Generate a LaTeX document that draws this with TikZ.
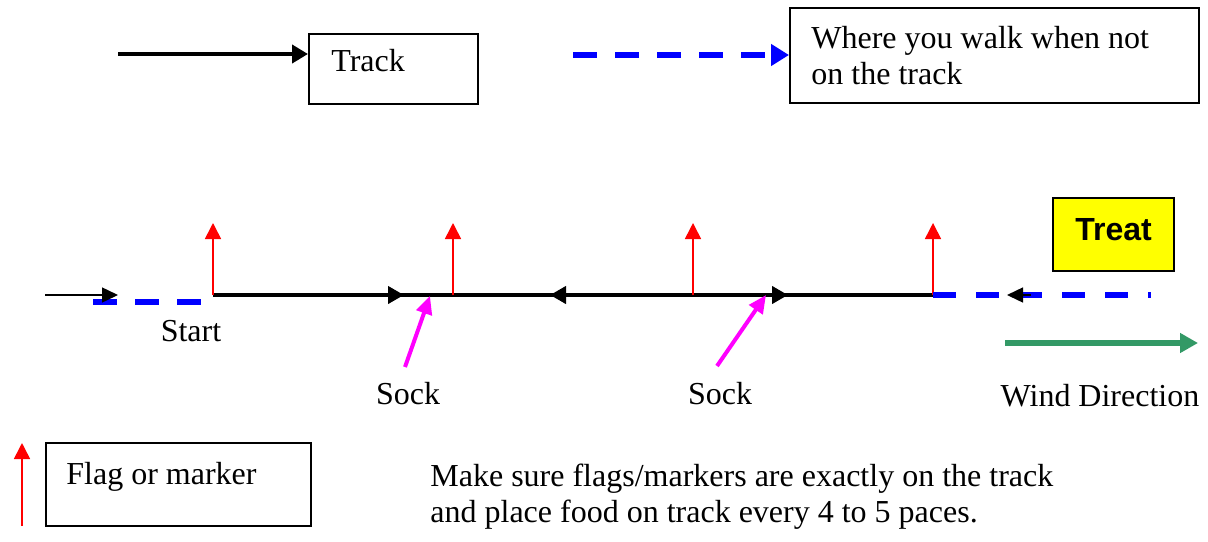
\documentclass[tikz,border=0pt]{standalone}
\usepackage{fontspec}
\setmainfont{Liberation Serif}
\newfontfamily\treatfont{Liberation Sans}
\usetikzlibrary{arrows.meta,positioning}

\definecolor{walkblue}{RGB}{0,0,255}
\definecolor{flagred}{RGB}{255,0,0}
\definecolor{sockpink}{RGB}{255,0,255}
\definecolor{windgreen}{RGB}{51,153,102}
\definecolor{treatyellow}{RGB}{255,255,0}

\begin{document}
\begin{tikzpicture}[x=0.5pt,y=-0.5pt,font=\fontsize{16}{18}\selectfont,
  trackline/.style={line width=2pt},
  trackarrow/.style={line width=2pt,-{Triangle[length=8pt,width=8.5pt]}},
  thinarrow/.style={line width=0.75pt,-{Triangle[length=8pt,width=7.5pt]}},
  walk/.style={walkblue,line width=2.75pt,dash pattern=on 12pt off 9pt},
  flag/.style={flagred,line width=0.8pt,-{Triangle[length=8pt,width=8pt]}},
  sock/.style={sockpink,line width=2pt,-{Triangle[length=9pt,width=8pt]}},
  legendbox/.style={draw,line width=1pt,inner sep=0pt,anchor=north west},
  txt/.style={inner sep=0pt,align=left}]
 \useasboundingbox (0,0) rectangle (1208,541);

 % legend
 \node[legendbox,minimum width=84.5pt,minimum height=35pt]   (tb) at (308,33) {};
 \node[legendbox,minimum width=204.5pt,minimum height=47.5pt] (wb) at (789,7)  {};
 \node[legendbox,minimum width=132.5pt,minimum height=41.5pt] (fb) at (45,442)  {};
 \node[txt,anchor=base west] (tt) at (331,71)  {Track};
 \node[txt,anchor=north west] (wt) at (811,26) {Where you walk when not\\on the track};
 \node[txt,anchor=base west] (ft) at (66,484)  {Flag or marker};
 \coordinate (tl) at (118,54);
 \coordinate (wl) at (573,55);
 \coordinate (lf0) at (22,526);
 \coordinate (lf1) at (22,443);
 \draw[line width=2pt,-{Triangle[length=8pt,width=9pt]}] (tl) -- (tl -| tb.west);
 \draw[walk,-{Triangle[length=9pt,width=10.5pt]}] (wl) -- (wl -| wb.west);
 \draw[flag] (lf0) -- (lf1);

 % the track with its flags
 \foreach \x [count=\i] in {213,453,693,933} {
   \coordinate (f\i) at (\x,295);
   \coordinate (h\i) at (\x,223);
 }
 \coordinate (t1) at (404,295);
 \coordinate (t2) at (550,295);
 \coordinate (t3) at (788,295);
 \draw[trackline] (f1) -- (f4);
 \path (f1) edge[trackarrow] (t1)
       (f3) edge[trackarrow] (t2)
       (f3) edge[trackarrow] (t3);
 \foreach \i in {1,...,4}
   \draw[flag] (f\i) -- (h\i);

 % start
 \coordinate (s0) at (45,295);
 \coordinate (s1) at (118,295);
 \coordinate (b0) at (93,302);
 \coordinate (b1) at (201,302);
 \draw[walk] (b0) -- (b1);
 \draw[thinarrow] (s0) -- (s1);
 \node (start) at (191,331) {Start};

 % end and treat
 \coordinate (e1) at (1151,295);
 \coordinate (r0) at (1031,295);
 \coordinate (r1) at (1007,295);
 \draw[walk,dash pattern=on 11.5pt off 10pt] (f4) -- (e1);
 \draw[thinarrow] (r0) -- (r1);
 \node[draw,line width=1pt,fill=treatyellow,minimum width=60.5pt,minimum height=36.5pt,
       text depth=5pt,font=\treatfont\bfseries\fontsize{16}{18}\selectfont] (treat) at (1113.5,234.5) {Treat};

 % socks
 \coordinate (k1) at (405,367);
 \coordinate (p1) at (430,296);
 \coordinate (k2) at (717,366);
 \coordinate (p2) at (766,295);
 \draw[sock] (k1) -- (p1);
 \draw[sock] (k2) -- (p2);
 \node[anchor=base] (sock1) at (408,404) {Sock};
 \node[anchor=base] (sock2) at (720,404) {Sock};

 % wind
 \coordinate (w0) at (1005,343);
 \coordinate (w1) at (1198,343);
 \draw[windgreen,line width=2.75pt,-{Triangle[length=9pt,width=9.5pt]}] (w0) -- (w1);
 \node[anchor=base] (wind) at (1100,406) {Wind Direction};

 % note
 \node[txt,anchor=north west] (note) at (430,464)
   {Make sure flags/markers are exactly on the track\\and place food on track every 4 to 5 paces.};
\end{tikzpicture}
\end{document}
